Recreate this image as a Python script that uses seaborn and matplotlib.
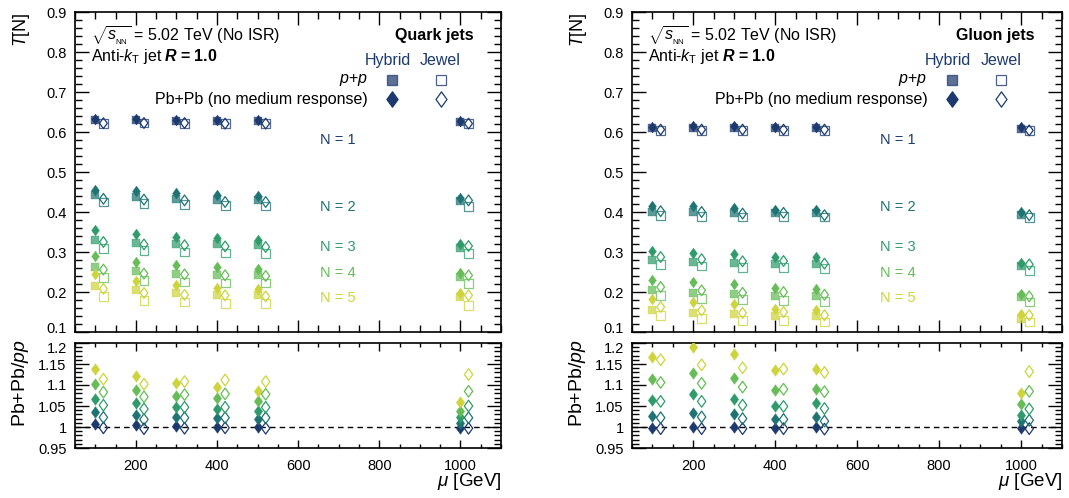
import numpy as np
import pandas as pd
import seaborn as sns
import matplotlib.pyplot as plt
from matplotlib.path import Path
from matplotlib.transforms import ScaledTranslation
from matplotlib.ticker import MultipleLocator, FormatStrFormatter

# jet energy scale points (GeV) and N subjettiness index
mu = [100, 200, 300, 400, 500, 1000]
n_values = [1, 2, 3, 4, 5]
n_colors = ['#1c3a6e', '#1f7373', '#2f9b6b', '#66bc57', '#cdd43c']
n_label_y = [0.58, 0.4125, 0.3125, 0.2475, 0.185]

# Quark jets: rows N=1..5, columns mu
q_hyb_pp = [[0.629, 0.629, 0.6275, 0.627, 0.627, 0.625],
            [0.442, 0.4375, 0.433, 0.431, 0.429, 0.4275],
            [0.331, 0.3225, 0.321, 0.319, 0.3167, 0.311],
            [0.262, 0.252, 0.246, 0.2433, 0.2417, 0.2375],
            [0.214, 0.204, 0.1975, 0.193, 0.1917, 0.1875]]
q_hyb_pbpb = [[0.632, 0.632, 0.631, 0.629, 0.629, 0.6275],
              [0.456, 0.4525, 0.4475, 0.442, 0.440, 0.436],
              [0.356, 0.344, 0.3375, 0.336, 0.331, 0.321],
              [0.289, 0.275, 0.2667, 0.2625, 0.258, 0.2475],
              [0.244, 0.2275, 0.2167, 0.211, 0.2083, 0.1975]]
q_jew_pp = [[0.622, 0.6225, 0.621, 0.621, 0.621, 0.621],
            [0.425, 0.421, 0.419, 0.4167, 0.415, 0.414],
            [0.308, 0.304, 0.300, 0.2975, 0.296, 0.296],
            [0.237, 0.229, 0.225, 0.2225, 0.2225, 0.221],
            [0.188, 0.179, 0.175, 0.171, 0.171, 0.1667]]
q_jew_pbpb = [[0.622, 0.6225, 0.6225, 0.621, 0.621, 0.621],
              [0.433, 0.431, 0.429, 0.425, 0.425, 0.429],
              [0.325, 0.319, 0.317, 0.314, 0.3125, 0.315],
              [0.256, 0.246, 0.244, 0.2417, 0.240, 0.2417],
              [0.208, 0.1975, 0.193, 0.1917, 0.189, 0.1917]]
q_hyb_ratio = [[1.006, 1.004, 1.002, 1.001, 1.001, 0.997],
               [1.035, 1.028, 1.023, 1.022, 1.020, 1.010],
               [1.066, 1.058, 1.047, 1.043, 1.039, 1.024],
               [1.102, 1.088, 1.074, 1.068, 1.062, 1.038],
               [1.137, 1.122, 1.104, 1.095, 1.085, 1.060]]
q_jew_ratio = [[0.998, 0.996, 0.997, 0.998, 0.997, 0.997],
               [1.023, 1.018, 1.022, 1.022, 1.022, 1.022],
               [1.052, 1.043, 1.047, 1.047, 1.047, 1.050],
               [1.083, 1.072, 1.077, 1.079, 1.078, 1.085],
               [1.114, 1.102, 1.108, 1.112, 1.108, 1.125]]

# Gluon jets
g_hyb_pp = [[0.611, 0.611, 0.611, 0.611, 0.611, 0.608],
            [0.400, 0.400, 0.3975, 0.3975, 0.3975, 0.392],
            [0.281, 0.275, 0.273, 0.271, 0.269, 0.265],
            [0.206, 0.1975, 0.194, 0.189, 0.189, 0.1875],
            [0.154, 0.1475, 0.144, 0.139, 0.139, 0.133]]
g_hyb_pbpb = [[0.6125, 0.614, 0.614, 0.6125, 0.6125, 0.6125],
              [0.414, 0.414, 0.411, 0.404, 0.404, 0.400],
              [0.302, 0.2975, 0.294, 0.2875, 0.2875, 0.273],
              [0.229, 0.225, 0.219, 0.211, 0.208, 0.196],
              [0.182, 0.175, 0.171, 0.158, 0.156, 0.146]]
g_jew_pp = [[0.604, 0.604, 0.604, 0.604, 0.604, 0.604],
            [0.392, 0.389, 0.3875, 0.389, 0.3875, 0.386],
            [0.269, 0.265, 0.261, 0.261, 0.258, 0.254],
            [0.192, 0.183, 0.181, 0.179, 0.177, 0.175],
            [0.142, 0.133, 0.129, 0.129, 0.125, 0.125]]
g_jew_pbpb = [[0.606, 0.606, 0.606, 0.606, 0.606, 0.604],
              [0.402, 0.400, 0.396, 0.398, 0.392, 0.392],
              [0.2875, 0.282, 0.2767, 0.2775, 0.271, 0.269],
              [0.2125, 0.204, 0.198, 0.200, 0.193, 0.189],
              [0.1625, 0.154, 0.1475, 0.150, 0.142, 0.142]]
g_hyb_ratio = [[0.998, 1.001, 1.001, 0.997, 1.001, 0.997],
               [1.026, 1.034, 1.030, 1.020, 1.024, 1.014],
               [1.065, 1.079, 1.067, 1.051, 1.057, 1.029],
               [1.114, 1.129, 1.117, 1.088, 1.091, 1.055],
               [1.166, 1.190, 1.173, 1.135, 1.137, 1.081]]
g_jew_ratio = [[0.996, 0.996, 0.996, 0.996, 0.995, 0.996],
               [1.022, 1.024, 1.020, 1.018, 1.014, 1.016],
               [1.061, 1.061, 1.052, 1.049, 1.044, 1.043],
               [1.106, 1.104, 1.095, 1.090, 1.084, 1.085],
               [1.160, 1.148, 1.141, 1.138, 1.130, 1.132]]

JEWEL_SHIFT = 20  # horizontal offset of Jewel points, GeV
NAVY = '#1c3a6e'

sns.set_style("ticks")
plt.rcParams['font.family'] = ['Liberation Sans', 'DejaVu Sans']
plt.rcParams['mathtext.fontset'] = 'custom'
plt.rcParams['mathtext.rm'] = 'Liberation Sans'
plt.rcParams['mathtext.it'] = 'Liberation Sans:italic'
plt.rcParams['mathtext.bf'] = 'Liberation Sans:bold'
plt.rcParams['mathtext.bfit'] = 'Liberation Sans:bold:italic'
plt.rcParams['text.color'] = 'black'
plt.rcParams['axes.labelcolor'] = 'black'
plt.rcParams['xtick.color'] = 'black'
plt.rcParams['ytick.color'] = 'black'
plt.rcParams['axes.edgecolor'] = 'black'

# diamond marker, a bit fatter than matplotlib's 'd'
DIAMOND = Path([(-0.36, 0), (0, 0.5), (0.36, 0), (0, -0.5), (-0.36, 0)],
               [Path.MOVETO, Path.LINETO, Path.LINETO, Path.LINETO, Path.CLOSEPOLY])


def to_long(table, shift=0):
    rows = []
    for n, vals in zip(n_values, table):
        for m, v in zip(mu, vals):
            rows.append({'mu': m + shift, 'N': n, 'value': v})
    return pd.DataFrame(rows)


def draw_points(ax, table, marker, size, filled, shift=0, alpha=1.0):
    df = to_long(table, shift)
    for n, col in zip(n_values, n_colors):
        sub = df[df['N'] == n]
        if filled:
            sns.scatterplot(data=sub, x='mu', y='value', color=col, marker=marker,
                            s=size, edgecolor=col, linewidth=0.3, alpha=alpha,
                            legend=False, ax=ax, zorder=3)
        else:
            sns.scatterplot(data=sub, x='mu', y='value', color=col, marker=marker,
                            s=size, facecolor='none', edgecolor=col, linewidth=0.9,
                            alpha=alpha, legend=False, ax=ax, zorder=3)


def style_axes(ax, ratio=False):
    ax.set_xlim(50, 1100)
    ax.xaxis.set_major_locator(MultipleLocator(200))
    ax.xaxis.set_minor_locator(MultipleLocator(50))
    for s in ax.spines.values():
        s.set_linewidth(1.2)
        s.set_visible(True)
    ax.tick_params(which='both', direction='in', top=True, right=True,
                   width=1, labelsize=10.5, color='black', labelcolor='black')
    ax.tick_params(axis='y', which='major', length=10, pad=6)
    ax.tick_params(axis='y', which='minor', length=5)
    if ratio:
        ax.set_ylim(0.95, 1.2)
        ax.yaxis.set_major_locator(MultipleLocator(0.05))
        ax.yaxis.set_minor_locator(MultipleLocator(0.01))
        ax.yaxis.set_major_formatter(FormatStrFormatter('%g'))
        ax.tick_params(axis='x', which='major', length=6, pad=8)
        ax.tick_params(axis='x', which='minor', length=3)
    else:
        ax.set_ylim(0.1, 0.9)
        ax.yaxis.set_major_locator(MultipleLocator(0.1))
        ax.yaxis.set_minor_locator(MultipleLocator(0.02))
        ax.yaxis.set_major_formatter(FormatStrFormatter('%g'))
        ax.tick_params(axis='x', which='major', length=9, labelbottom=False)
        ax.tick_params(axis='x', which='minor', length=5)
    ax.set_xlabel('')
    ax.set_ylabel('')


def draw_panel(ax_top, ax_rat, hyb_pp, hyb_pbpb, jew_pp, jew_pbpb,
               hyb_ratio, jew_ratio, title):
    draw_points(ax_top, hyb_pp, 's', 40, True, alpha=0.72)
    draw_points(ax_top, jew_pp, 's', 40, False, shift=JEWEL_SHIFT, alpha=0.75)
    draw_points(ax_top, hyb_pbpb, DIAMOND, 60, True)
    draw_points(ax_top, jew_pbpb, DIAMOND, 60, False, shift=JEWEL_SHIFT)

    draw_points(ax_rat, hyb_ratio, DIAMOND, 70, True)
    draw_points(ax_rat, jew_ratio, DIAMOND, 70, False, shift=JEWEL_SHIFT)
    ax_rat.axhline(1.0, color='black', lw=1, ls=(0, (4, 3)), zorder=1)

    style_axes(ax_top)
    style_axes(ax_rat, ratio=True)

    for n, col, y in zip(n_values, n_colors, n_label_y):
        ax_top.text(655, y, f'N = {n}', color=col, fontsize=10.5,
                    ha='left', va='center')

    tr = ax_top.transAxes
    ax_top.text(0.038, 0.928, r'$\sqrt{s_{_\mathrm{NN}}}$ = 5.02 TeV (No ISR)',
                transform=tr, fontsize=11.5, ha='left', va='center')
    jet_txt = ax_top.text(0.038, 0.848, r'Anti-$k_{\mathrm{T}}$ jet ',
                          transform=tr, fontsize=11.5, ha='left', va='baseline')
    r_txt = ax_top.text(0.3, 0.848, r'$\mathbfit{R}$ = 1.0', transform=tr,
                        fontsize=11.5, fontweight='bold', ha='left', va='baseline')
    ax_top.text(0.935, 0.928, title, transform=tr, fontsize=11.5,
                fontweight='bold', ha='right', va='center')
    ax_top.text(0.735, 0.85, 'Hybrid', transform=tr, fontsize=11.5,
                color=NAVY, ha='center', va='center')
    ax_top.text(0.858, 0.85, 'Jewel', transform=tr, fontsize=11.5,
                color=NAVY, ha='center', va='center')
    ax_top.text(0.687, 0.7875, r'$p$+$p$', transform=tr, fontsize=11.5,
                ha='right', va='center')
    ax_top.text(0.687, 0.728, 'Pb+Pb (no medium response)', transform=tr,
                fontsize=11.5, ha='right', va='center')
    ax_top.plot([0.745], [0.7875], marker='s', ms=7, color=NAVY, alpha=0.72,
                mec=NAVY, transform=tr, ls='none')
    ax_top.plot([0.859], [0.7875], marker='s', ms=7, mfc='none', mec=NAVY,
                mew=0.9, alpha=0.8, transform=tr, ls='none')
    ax_top.plot([0.745], [0.728], marker=DIAMOND, ms=11, color=NAVY,
                transform=tr, ls='none')
    ax_top.plot([0.859], [0.728], marker=DIAMOND, ms=11, mfc='none', mec=NAVY,
                mew=0.9, transform=tr, ls='none')

    ax_top.set_ylabel(r'$T$[N]', fontsize=13, loc='top')
    ax_top.yaxis.set_label_coords(-0.1, 1.0)
    ax_rat.set_ylabel(r'Pb+Pb/$pp$', fontsize=14, loc='top')
    ax_rat.yaxis.set_label_coords(-0.103, 1.03)
    ax_rat.set_xlabel(r'$\mu$ [GeV]', fontsize=13.5, loc='right')
    ax_rat.xaxis.set_label_coords(1.0, -0.22)
    return jet_txt, r_txt


def place_after(ax, first, second):
    # put the bold "R = 1.0" right after the regular part of the line
    fig.canvas.draw()
    bb = first.get_window_extent()
    x_ax = ax.transAxes.inverted().transform((bb.x1, bb.y0))[0]
    second.set_x(x_ax + 0.004)


def nudge_edge_labels(ax_top, ax_rat):
    # the lowest label of the upper pad and the highest of the ratio pad sit close
    fig.canvas.draw()
    up = ScaledTranslation(0, 3 / 72, fig.dpi_scale_trans)
    down = ScaledTranslation(0, -3 / 72, fig.dpi_scale_trans)
    for t in ax_top.yaxis.get_major_ticks():
        if abs(t.get_loc() - 0.1) < 1e-6:
            t.label1.set_transform(t.label1.get_transform() + up)
    for t in ax_rat.yaxis.get_major_ticks():
        if abs(t.get_loc() - 1.2) < 1e-6:
            t.label1.set_transform(t.label1.get_transform() + down)


fig = plt.figure(figsize=(10.69, 4.98), dpi=100)
W, H = 1069.0, 498.0
left_panels = (75, 501)
right_panels = (632, 1062)
top_box = (12, 332)
rat_box = (343, 448)


def make_axes(xs, ys):
    return fig.add_axes([xs[0] / W, 1 - ys[1] / H, (xs[1] - xs[0]) / W, (ys[1] - ys[0]) / H])


axq_top = make_axes(left_panels, top_box)
axq_rat = make_axes(left_panels, rat_box)
axg_top = make_axes(right_panels, top_box)
axg_rat = make_axes(right_panels, rat_box)

q_texts = draw_panel(axq_top, axq_rat, q_hyb_pp, q_hyb_pbpb, q_jew_pp, q_jew_pbpb,
                     q_hyb_ratio, q_jew_ratio, 'Quark jets')
g_texts = draw_panel(axg_top, axg_rat, g_hyb_pp, g_hyb_pbpb, g_jew_pp, g_jew_pbpb,
                     g_hyb_ratio, g_jew_ratio, 'Gluon jets')

place_after(axq_top, *q_texts)
place_after(axg_top, *g_texts)

nudge_edge_labels(axq_top, axq_rat)
nudge_edge_labels(axg_top, axg_rat)

fig.savefig('out.png', dpi=100)
